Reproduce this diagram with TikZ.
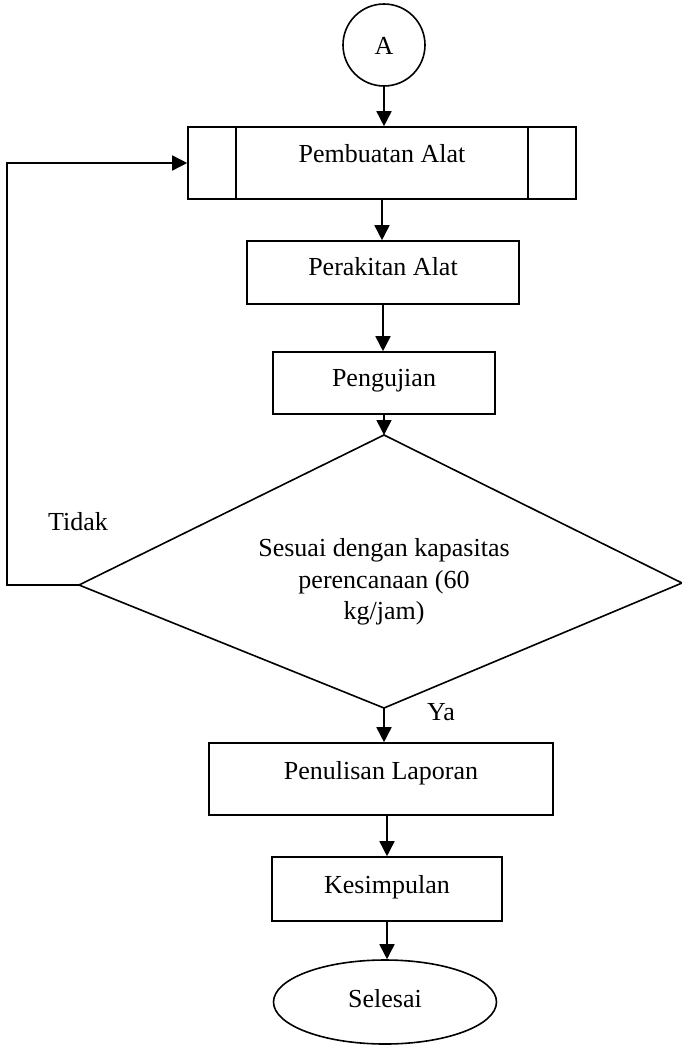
\documentclass[tikz,border=0pt]{standalone}
\usepackage{fontspec}
\setmainfont{Liberation Serif}
\usetikzlibrary{arrows.meta,shapes.geometric,calc}
\begin{document}
\begin{tikzpicture}[x=1pt,y=-1pt,
  line width=1.6pt,
  every node/.style={font=\fontsize{26}{31.5}\selectfont},
  box/.style={draw,rectangle,inner sep=0pt,text height=18pt},
  arr/.style={-{Triangle[length=15pt,width=15pt]}}]
\useasboundingbox (0,0) rectangle (682,1047);
% nodes
\node[draw,circle,minimum size=82pt,inner sep=0pt,text height=18pt,text depth=0pt] (a) at (384,45) {A};
\node[box,minimum width=388pt,minimum height=72pt,text depth=20pt] (pa) at (382,163) {Pembuatan Alat};
\draw ($(pa.north west)+(49,0)$) -- ($(pa.south west)+(49,0)$);
\draw ($(pa.north east)+(-49,0)$) -- ($(pa.south east)+(-49,0)$);
\node[box,minimum width=272pt,minimum height=63pt,text depth=13pt] (pr) at (383,272.5) {Perakitan Alat};
\node[box,minimum width=222pt,minimum height=62pt,text depth=11pt] (pg) at (384,383) {Pengujian};
% decision
\coordinate (dt) at (384,435);
\coordinate (dr) at (682,583);
\coordinate (db) at (384,708);
\coordinate (dl) at (79,585);
\draw[line join=miter] (dt) -- (dr) -- (db) -- (dl) -- cycle;
\node[align=center,inner sep=0pt] (dtext) at (384,582) {Sesuai dengan kapasitas\\perencanaan (60\\kg/jam)};
\node[box,minimum width=344pt,minimum height=72pt,text depth=18pt] (pl) at (381,779) {Penulisan Laporan};
\node[box,minimum width=230pt,minimum height=64pt,text depth=9pt] (ks) at (387,889) {Kesimpulan};
\node[draw,ellipse,minimum width=223pt,minimum height=84pt,inner sep=0pt,text height=18pt,text depth=8pt] (se) at (385,1002) {Selesai};
\node[anchor=base,inner sep=0pt] (tidak) at (78,530) {Tidak};
\node[anchor=base,inner sep=0pt] (ya) at (441,720) {Ya};
\coordinate (fb) at (7,0);
% connectors
\draw[arr] (a.south) -- (a.south |- pa.north);
\draw[arr] (pa.south) -- (pa.south |- pr.north);
\draw[arr] (pr.south) -- (pr.south |- pg.north);
\draw[arr] (pg.south) -- (dt);
\draw[arr] (db) -- (db |- pl.north);
\draw[arr] (pl.south -| ks.north) -- (ks.north);
\draw[arr] (ks.south) -- (ks.south |- se.north);
\draw[arr] (dl) -- (fb |- dl) -- (fb |- pa.west) -- (pa.west);
\end{tikzpicture}
\end{document}
